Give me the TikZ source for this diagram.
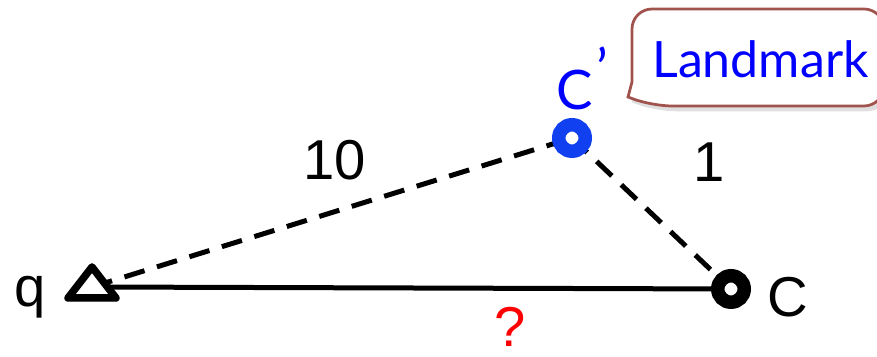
\documentclass[tikz,border=0pt]{standalone}
\usepackage{fontspec}
\setmainfont{Liberation Sans}
\newfontfamily\gillfont{Lato}
\usetikzlibrary{shadows}
\definecolor{ringblue}{RGB}{16,64,240}
\definecolor{boxred}{RGB}{160,82,76}
\begin{document}
\begin{tikzpicture}[
        x=0.02cm, y=-0.02cm,
        lbl/.style={inner sep=0pt, font=\fontsize{32}{36}\selectfont},
        cpfont/.style={inner sep=0pt, text=blue, font=\gillfont\fontsize{31}{34}\selectfont},
        lmkfont/.style={inner sep=0pt, text=blue, font=\gillfont\fontsize{28.5}{32}\selectfont},
        link/.style={line width=0.1cm},
        dashlink/.style={line width=0.1cm, dash pattern=on 0.42cm off 0.26cm},
        ring/.style={circle, minimum size=0.53cm, inner sep=0pt, line width=0.27cm, fill=white},
        qmark/.style={line width=0.15cm, line join=round, fill=white,
            drop shadow={opacity=0.2, shadow xshift=1pt, shadow yshift=-2pt}},
        lmkbox/.style={draw=boxred, line width=0.055cm, fill=white,
            drop shadow={opacity=0.25, shadow xshift=2pt, shadow yshift=-3pt}},
    ]
    \useasboundingbox (0,0) rectangle (877,357);
    \coordinate (q) at (92,287);
    \coordinate (cp) at (572,138);
    \coordinate (c) at (731,289);
    \draw[link] (q) -- (c);
    \draw[dashlink] (q) -- (cp);
    \draw[dashlink] (cp) -- (c);
    \draw[qmark] (q) ++(0,-20) -- ++(24,31) -- ++(-48,0) -- cycle;
    \node[ring, draw=ringblue] (cpmark) at (cp) {};
    \node[ring, draw=black] (cmark) at (c) {};
    \node[lbl, anchor=base west] (qlabel) at (14,307) {q};
    \node[lbl, anchor=base west] (clabel) at (767,317) {C};
    \node[lbl, anchor=base] (dqcp) at (335,180) {10};
    \node[lbl, anchor=base] (dcpc) at (709,182) {1};
    \node[lbl, text=red, anchor=base] (unknown) at (510,347) {?};
    \node[cpfont, anchor=base west] (cplabel) at (556,110) {C\kern2pt\raisebox{.4em}{’}};
    \draw[lmkbox] (632,82) [rounded corners=0.4cm] -- (632,9) -- (884,9) -- (884,106) -- (652,106) [sharp corners] -- (628,97) -- cycle;
    \node[lmkfont, anchor=base west] (lmk) at (652,78) {Landmark};
\end{tikzpicture}
\end{document}
